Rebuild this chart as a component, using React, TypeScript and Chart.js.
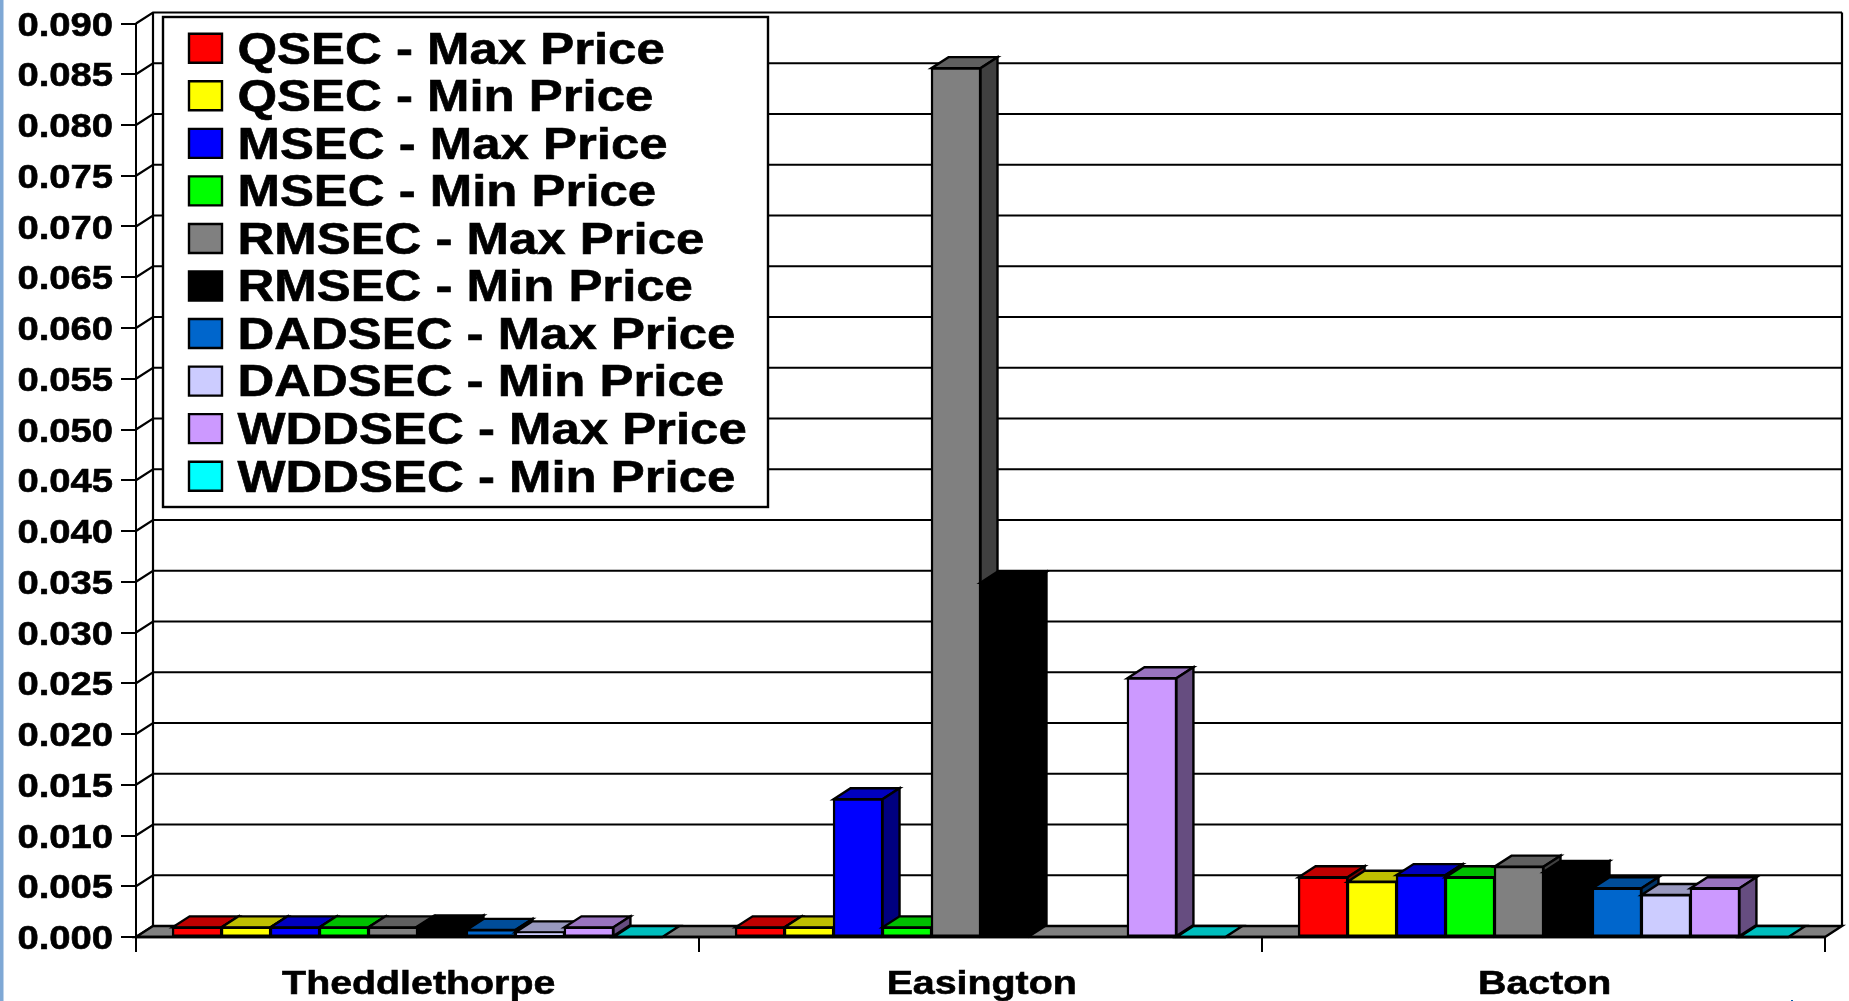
import React, { useEffect, useRef } from "react";
import { Chart, registerables } from "chart.js";

Chart.register(...registerables);

const categories = ["Theddlethorpe", "Easington", "Bacton"];
const seriesNames = [
  "QSEC - Max Price", "QSEC - Min Price", "MSEC - Max Price", "MSEC - Min Price", "RMSEC - Max Price",
  "RMSEC - Min Price", "DADSEC - Max Price", "DADSEC - Min Price", "WDDSEC - Max Price", "WDDSEC - Min Price",
];
const qsecMax = [0.00095, 0.00095, 0.00588];
const qsecMin = [0.00095, 0.00095, 0.00545];
const msecMax = [0.00095, 0.01357, 0.0061];
const msecMin = [0.00095, 0.00095, 0.00588];
const rmsecMax = [0.00095, 0.0856, 0.00693];
const rmsecMin = [0.00105, 0.0349, 0.0064];
const dadsecMax = [0.0007, null, 0.0048];
const dadsecMin = [0.00046, null, 0.00414];
const wddsecMax = [0.00095, 0.0255, 0.0048];
const wddsecMin = [0, 0, 0];
const seriesValues = [qsecMax, qsecMin, msecMax, msecMin, rmsecMax, rmsecMin, dadsecMax, dadsecMin, wddsecMax, wddsecMin];

const frontColors = ["#FF0000", "#FFFF00", "#0000FF", "#00FF00", "#808080", "#000000", "#0066CC", "#CCCCFF", "#CC99FF", "#00FFFF"];
const topColors = ["#BF0000", "#BFBF00", "#0000BF", "#00BF00", "#606060", "#000000", "#004D99", "#9999BF", "#9973BF", "#00BFBF"];
const sideColors = ["#800000", "#808000", "#000080", "#008000", "#404040", "#000000", "#003366", "#666680", "#664D80", "#008080"];

const DX = 17;
const DY = 11;
const STRETCH = 1.157;

function poly(ctx: CanvasRenderingContext2D, pts: number[][], fill: string | null, lw = 2.4) {
  ctx.beginPath();
  pts.forEach((p, i) => (i ? ctx.lineTo(p[0], p[1]) : ctx.moveTo(p[0], p[1])));
  ctx.closePath();
  if (fill) {
    ctx.fillStyle = fill;
    ctx.fill();
  }
  ctx.lineWidth = lw;
  ctx.strokeStyle = "#000";
  ctx.stroke();
}

const depthPlugin = {
  id: "depth",
  afterLayout(chart: any) {
    const l = chart.legend;
    l.left = 185.45;
    l.top = 22.7;
    l.right = 768;
    l.bottom = 600;
  },
  beforeDraw(chart: any) {
    const { ctx, chartArea: a, scales } = chart;
    ctx.save();
    ctx.fillStyle = "#FFF";
    ctx.fillRect(0, 0, chart.width, chart.height);
    ctx.fillStyle = "#7FA8D5";
    ctx.fillRect(0, 0, 3.5, chart.height);
    ctx.fillStyle = "#0058AA";
    ctx.fillRect(1791, 1000, 2, 1);
    ctx.lineWidth = 2.2;
    ctx.strokeStyle = "#000";
    const y = scales.y;
    y.ticks.forEach((t: any) => {
      const py = y.getPixelForValue(t.value);
      ctx.beginPath();
      ctx.moveTo(a.left, py);
      ctx.lineTo(a.left + DX, py - DY);
      ctx.lineTo(a.right + DX, py - DY);
      ctx.stroke();
    });
    ctx.beginPath();
    ctx.moveTo(a.left + DX, a.top - DY);
    ctx.lineTo(a.left + DX, a.bottom - DY);
    ctx.moveTo(a.right + DX, a.top - DY);
    ctx.lineTo(a.right + DX, a.bottom - DY);
    ctx.stroke();
    poly(ctx, [[a.left, a.bottom], [a.right, a.bottom], [a.right + DX, a.bottom - DY], [a.left + DX, a.bottom - DY]], "#808080");
    ctx.fillStyle = "#FFF";
    ctx.fillRect(163, 17, 605, 490);
    ctx.strokeRect(163, 17, 605, 490);
    ctx.restore();
  },
  beforeDatasetsDraw(chart: any) {
    const { ctx, chartArea: a } = chart;
    ctx.save();
    seriesValues.forEach((values, i) => {
      const meta = chart.getDatasetMeta(i);
      meta.data.forEach((bar: any, j: number) => {
        if (values[j] === null) return;
        const l = bar.x - bar.width / 2;
        const r = bar.x + bar.width / 2;
        const t = bar.y;
        const b = bar.base;
        poly(ctx, [[l, t], [r, t], [r + DX, t - DY], [l + DX, t - DY]], topColors[i]);
        if (b - t > 0.5) poly(ctx, [[r, t], [r, b], [r + DX, b - DY], [r + DX, t - DY]], sideColors[i]);
        if (b - t > 0.5) bar.draw(ctx, a);
      });
    });
    ctx.strokeStyle = "#000";
    ctx.lineWidth = 2.5;
    ctx.beginPath();
    ctx.moveTo(a.left, a.bottom);
    ctx.lineTo(a.right, a.bottom);
    ctx.stroke();
    ctx.restore();
    return false;
  },
};

export default function App() {
  const ref = useRef<HTMLCanvasElement>(null);
  useEffect(() => {
    const canvas = ref.current!;
    const ctx = canvas.getContext("2d") as any;
    const fill = ctx.fillText.bind(ctx);
    const stroke = ctx.strokeText.bind(ctx);
    // The reference's lettering is stretched sideways about its anchor point and is heavier.
    ctx.fillText = (text: string, x: number, y: number) => {
      const align = ctx.textAlign;
      const nudgeX = align === "left" ? -6.5 : align === "center" ? 1.2 : 0;
      const nudgeY = align === "left" ? 3.2 : align === "center" ? 0 : 3;
      ctx.save();
      ctx.translate(x + nudgeX, y + nudgeY);
      ctx.scale(STRETCH, 1);
      ctx.strokeStyle = "#000";
      ctx.lineWidth = 0.6;
      stroke(text, 0, 0);
      fill(text, 0, 0);
      ctx.restore();
    };
    const chart = new Chart(canvas, {
      type: "bar",
      data: {
        labels: categories,
        datasets: seriesNames.map((label, i) => ({
          label,
          data: seriesValues[i],
          backgroundColor: frontColors[i],
          borderColor: "#000",
          borderWidth: 2.4,
          borderSkipped: false,
          inflateAmount: 0.8,
          categoryPercentage: 0.87,
          barPercentage: 1,
        })),
      },
      options: {
        responsive: false,
        animation: false,
        layout: { padding: { left: 0, top: 23.5, right: 24, bottom: 0 } },
        plugins: {
          tooltip: { enabled: false },
          legend: {
            position: "chartArea",
            align: "start",
            labels: {
              boxWidth: 33,
              boxHeight: 29,
              padding: 3.55,
              color: "#000",
              font: { family: "Liberation Sans", weight: "bold", size: 44, lineHeight: 1 },
            },
          },
        },
        scales: {
          x: {
            afterFit: (s: any) => { s.height = 64; },
            grid: { color: "#000", lineWidth: 2, drawOnChartArea: false, tickLength: 15 },
            border: { display: true, color: "#000", width: 2 },
            ticks: {
              color: "#000",
              padding: 12,
              maxRotation: 0,
              autoSkip: false,
              font: { family: "Liberation Sans", weight: "bold", size: 34 },
            },
          },
          y: {
            min: 0,
            max: 0.09,
            afterFit: (s: any) => { s.width = 136; },
            grid: { color: "#000", lineWidth: 2, drawOnChartArea: false, tickLength: 15 },
            border: { display: true, color: "#000", width: 2 },
            ticks: {
              stepSize: 0.005,
              autoSkip: false,
              color: "#000",
              padding: 8,
              callback: (v: any) => Number(v).toFixed(3),
              font: { family: "Liberation Sans", weight: "bold", size: 33, lineHeight: 0.9 },
            },
          },
        },
      } as any,
      plugins: [depthPlugin as any],
    });
    return () => chart.destroy();
  }, []);
  return <canvas ref={ref} width={1849} height={1001} style={{ position: "fixed", left: 0, top: 0, display: "block" }} />;
}
